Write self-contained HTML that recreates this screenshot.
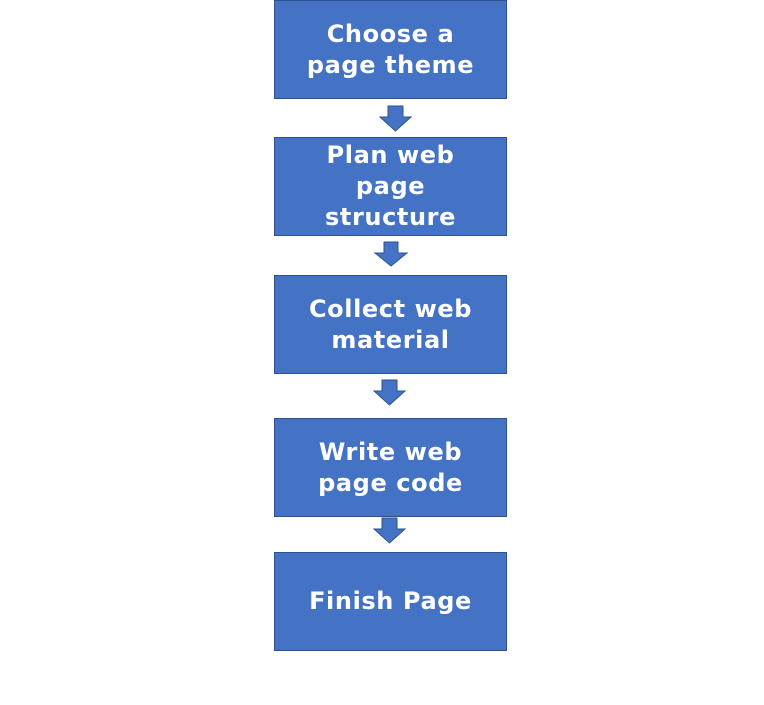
<!DOCTYPE html>
<html><head><style>
body{margin:0;width:764px;height:705px;background:#fff;position:relative;overflow:hidden}
.b{position:absolute;left:274px;background:#4472C4;border:1px solid #2F528F;color:#fff;font-family:"DejaVu Sans","Liberation Sans",sans-serif;font-weight:bold;font-size:24px;line-height:31px;display:flex;align-items:center;justify-content:center;text-align:center;box-sizing:border-box;height:99px;width:233px;padding:0 4px;letter-spacing:0.6px}
svg{position:absolute;left:0;top:0}
</style></head><body>
<div class="b" style="top:0">Choose a<br>page theme</div>
<div class="b" style="top:137px">Plan web<br>page<br>structure</div>
<div class="b" style="top:275px">Collect web<br>material</div>
<div class="b" style="top:418px">Write web<br>page code</div>
<div class="b" style="top:552px">Finish Page</div>
<svg width="764" height="705">
<g fill="#4472C4" stroke="#2F528F" stroke-width="1">
<polygon points="388,106 403,106 403,117 411,117 395.5,131 380,117 388,117"/>
<polygon points="384,242 398,242 398,253 407,253 391,266 375,253 384,253"/>
<polygon points="382,380 397,380 397,391 405,391 389.5,405 374,391 382,391"/>
<polygon points="382,518 397,518 397,529 405,529 389.5,543 374,529 382,529"/>
</g></svg>
</body></html>
